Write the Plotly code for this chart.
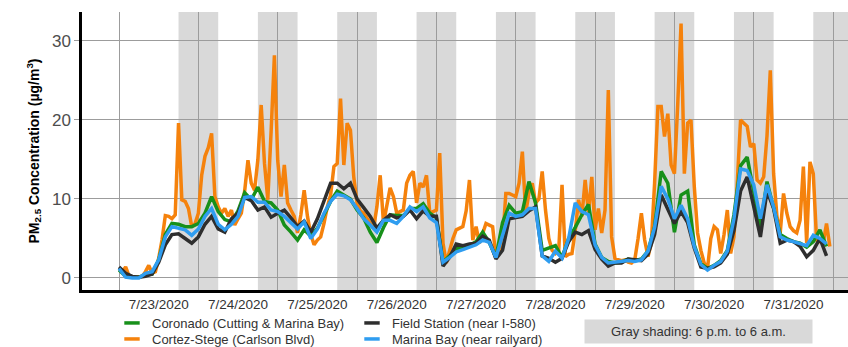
import pandas as pd
import plotly.graph_objects as go

# ---------------- data ----------------
START = "2020-07-23 00:00"

# Cortez-Stege (Carlson Blvd) - hourly readings
cortez_stege = [
    1.2, 0.8, 1.4, 0.3, 0.1, 0.1, 0.1, 0.2, 0.8, 1.6, 0.6, 0.8,
    2.5, 4.8, 7.9, 7.8, 7.5, 8.0, 19.6, 9.9, 9.7, 8.8, 6.5, 6.9,
    8.2, 13.0, 15.4, 16.5, 18.3, 10.3, 9.0, 8.2, 8.8, 7.8, 8.6, 6.7,
    7.5, 8.2, 11.0, 14.9, 12.0, 11.1, 15.0, 21.9, 14.5, 9.9, 18.5, 28.2,
    14.9, 10.3, 14.3, 9.5, 8.6, 7.8, 5.7, 8.0, 11.1, 7.8, 5.5, 4.2,
    4.8, 5.2, 6.9, 9.0, 10.5, 14.1, 14.5, 22.7, 14.3, 19.6, 18.7, 12.8,
    9.5, 8.5, 8.2, 7.5, 6.9, 6.3, 9.0, 13.0, 6.9, 9.0, 11.4, 10.3,
    8.2, 8.4, 8.6, 12.0, 13.0, 13.5, 9.5, 12.0, 11.5, 13.0, 8.2, 8.4,
    8.6, 15.8, 4.4, 1.9, 3.5, 5.0, 6.1, 6.3, 6.5, 8.5, 12.4, 4.8,
    6.5, 4.4, 5.5, 6.9, 6.7, 6.5, 2.7, 3.5, 4.4, 10.7, 10.7, 10.5,
    10.3, 12.0, 16.0, 8.2, 10.8, 12.0, 9.5, 10.0, 13.5, 8.6, 5.0, 3.5,
    3.1, 3.5, 11.8, 2.7, 3.0, 3.1, 6.0, 9.9, 7.8, 12.4, 8.2, 12.8,
    6.1, 8.8, 5.7, 8.6, 23.8, 5.2, 2.5, 2.3, 2.2, 2.3, 2.0, 1.9,
    2.3, 5.0, 8.2, 4.8, 2.7, 4.4, 12.0, 21.7, 21.7, 17.9, 20.8, 14.3,
    13.2, 22.0, 32.2, 13.2, 19.6, 20.0, 11.6, 5.7, 3.5, 1.9, 1.2, 5.0,
    6.5, 6.1, 3.1, 5.5, 8.6, 3.1, 5.2, 12.0, 20.0, 19.6, 19.2, 16.6,
    17.0, 12.4, 12.0, 12.8, 18.0, 26.3, 13.2, 7.8, 5.7, 10.7, 8.2, 6.5,
    6.0, 5.7, 7.3, 14.1, 4.4, 14.7, 13.2, 4.8, 4.6, 4.4, 6.9, 4.0,
]

# Coronado (Cutting & Marina Bay) - 2-hourly readings
coronado = [
    1.0, 0.2, 0.1, 0.1, 0.4, 0.5, 2.3, 5.5, 6.9, 6.8, 6.5, 6.5,
    6.9, 8.2, 10.3, 8.4, 7.4, 7.1, 8.5, 10.8, 9.9, 11.5, 9.7, 9.5,
    8.6, 6.7, 5.8, 4.8, 6.1, 5.3, 6.3, 8.0, 9.7, 11.0, 10.5, 10.0,
    8.6, 7.6, 5.8, 4.5, 6.4, 8.0, 7.9, 7.9, 8.8, 8.8, 9.4, 8.2,
    7.6, 2.0, 2.8, 3.7, 3.9, 4.1, 4.6, 5.8, 4.5, 2.6, 7.0, 9.2,
    8.2, 8.4, 12.2, 9.5, 3.5, 3.8, 4.1, 2.6, 5.0, 6.4, 8.0, 9.3,
    4.3, 2.6, 2.1, 1.9, 2.0, 2.4, 2.2, 2.4, 3.4, 6.5, 13.5, 12.0,
    5.8, 10.5, 11.0, 4.2, 1.8, 1.2, 1.6, 2.2, 3.5, 8.0, 14.2, 15.3,
    10.6, 6.5, 12.2, 9.0, 5.5, 5.0, 4.6, 4.4, 3.9, 4.6, 6.1, 4.0,
]

# Field Station (near I-580) - 2-hourly readings
field_station = [
    1.4, 0.6, 0.2, 0.1, 0.2, 0.5, 2.0, 4.2, 5.5, 5.6, 5.0, 4.4,
    5.2, 6.8, 7.8, 6.2, 5.8, 7.5, 8.2, 10.2, 9.8, 8.6, 9.0, 7.7,
    8.2, 8.6, 7.6, 6.5, 7.2, 5.8, 7.5, 9.9, 12.0, 12.0, 11.3, 12.0,
    10.0, 8.9, 7.8, 6.3, 7.3, 8.0, 7.6, 7.8, 8.6, 7.5, 8.5, 7.8,
    7.8, 1.5, 2.6, 4.3, 4.1, 4.3, 4.4, 5.3, 4.8, 2.4, 3.5, 7.5,
    7.6, 7.8, 8.5, 9.0, 2.8, 2.5, 2.0, 2.5, 4.6, 5.8, 5.5, 6.0,
    3.6, 2.4, 1.5, 1.9, 1.9, 2.4, 2.3, 2.2, 3.0, 5.5, 10.5, 8.8,
    6.9, 8.4, 7.0, 3.8, 1.4, 1.2, 1.4, 1.9, 3.0, 6.0, 11.0, 12.8,
    9.2, 5.2, 11.0, 8.8, 4.4, 4.8, 4.6, 4.0, 2.7, 3.5, 5.0, 2.8,
]

# Marina Bay (near railyard) - 2-hourly readings
marina_bay = [
    1.2, 0.1, 0.0, 0.0, 0.6, 0.8, 2.3, 5.2, 6.5, 6.3, 6.1, 5.4,
    6.2, 7.8, 8.8, 6.8, 6.1, 6.8, 7.8, 10.2, 10.3, 9.6, 9.6, 8.6,
    8.4, 7.8, 7.0, 6.2, 7.1, 5.0, 6.2, 8.2, 9.7, 10.6, 10.4, 9.9,
    8.8, 7.5, 6.7, 5.8, 7.3, 7.3, 6.9, 7.8, 9.0, 8.4, 9.0, 7.6,
    7.0, 2.0, 2.6, 3.3, 3.6, 3.9, 4.2, 4.8, 4.5, 2.6, 5.5, 8.2,
    7.8, 8.0, 8.8, 8.8, 2.8, 2.1, 3.4, 2.5, 5.0, 9.5, 8.4, 8.0,
    4.2, 2.6, 1.9, 2.0, 2.1, 2.2, 2.1, 2.3, 3.4, 6.4, 11.6, 10.0,
    7.5, 9.2, 7.5, 4.0, 1.7, 1.0, 1.6, 2.1, 3.4, 7.5, 13.8, 13.6,
    11.8, 7.5, 11.8, 9.0, 5.2, 4.8, 4.6, 4.4, 4.1, 5.4, 5.0, 4.3,
]

day_labels = ["7/23/2020", "7/24/2020", "7/25/2020", "7/26/2020", "7/27/2020",
              "7/28/2020", "7/29/2020", "7/30/2020", "7/31/2020"]
y_ticks = [0, 10, 20, 30]

names = {
    "coronado": "Coronado (Cutting & Marina Bay)",
    "cortez": "Cortez-Stege (Carlson Blvd)",
    "field": "Field Station (near I-580)",
    "marina": "Marina Bay (near railyard)",
}

# ---------------- styles ----------------
C_GREEN = "#17901a"
C_ORANGE = "#f5820c"
C_BLACK = "#2e2e2e"
C_BLUE = "#2f9df0"
GRID = "#9c9c9c"
SHADE = "#d9d9d9"
FONT = "Liberation Sans, Arial, sans-serif"
LW = 3.5

t_hourly = pd.date_range(START, periods=len(cortez_stege), freq="h")
t_2h = pd.date_range(START, periods=len(coronado), freq="2h")
days = pd.date_range(START, periods=len(day_labels), freq="D")
noons = days + pd.Timedelta(hours=12)
midnights = pd.date_range(START, periods=len(day_labels) + 1, freq="D")

fig = go.Figure()

# data traces (orange bottom, blue top)
fig.add_trace(go.Scatter(x=t_hourly, y=cortez_stege, mode="lines",
                         line=dict(color=C_ORANGE, width=LW), showlegend=False))
fig.add_trace(go.Scatter(x=t_2h, y=coronado, mode="lines",
                         line=dict(color=C_GREEN, width=LW), showlegend=False))
fig.add_trace(go.Scatter(x=t_2h, y=field_station, mode="lines",
                         line=dict(color=C_BLACK, width=LW), showlegend=False))
fig.add_trace(go.Scatter(x=t_2h, y=marina_bay, mode="lines",
                         line=dict(color=C_BLUE, width=LW), showlegend=False))

# legend entries (short dash symbols), one legend box per entry
def legend_entry(name, color, legend):
    fig.add_trace(go.Scatter(
        x=[None], y=[None], mode="markers", name=name, legend=legend,
        marker=dict(symbol="line-ew", size=11, color=color,
                    line=dict(width=3.5, color=color))))

legend_entry(names["coronado"], C_GREEN, "legend")
legend_entry(names["cortez"], C_ORANGE, "legend2")
legend_entry(names["field"], C_BLACK, "legend3")
legend_entry(names["marina"], C_BLUE, "legend4")

# night shading 6 p.m. to 6 a.m.
shapes = []
for d in days:
    shapes.append(dict(type="rect", xref="x", yref="paper",
                       x0=d + pd.Timedelta(hours=18), x1=d + pd.Timedelta(hours=30),
                       y0=0, y1=1, fillcolor=SHADE, line=dict(width=0),
                       layer="below"))

x_left = pd.Timestamp(START) - pd.Timedelta(hours=11.2)
x_right = pd.Timestamp(START) + pd.Timedelta(hours=220.5)

leg_common = dict(orientation="v", xanchor="left", yanchor="top",
                  bgcolor="rgba(0,0,0,0)", borderwidth=0, tracegroupgap=0,
                  itemwidth=30, font=dict(family=FONT, size=13, color="#333333"))


def px_x(px):
    return (px - 82) / 766


def px_y(py):
    return (290 - py) / 278


fig.update_layout(
    width=848, height=347, autosize=False,
    margin=dict(l=82, r=0, t=12, b=57, autoexpand=False),
    paper_bgcolor="white", plot_bgcolor="white",
    font=dict(family=FONT),
    shapes=shapes,
    xaxis=dict(
        range=[x_left, x_right],
        tickmode="array", tickvals=list(noons), ticktext=day_labels,
        showgrid=False, zeroline=False,
        minor=dict(tickmode="array", tickvals=list(midnights), showgrid=True,
                   gridcolor=GRID, gridwidth=1, ticks=""),
        showline=True, linecolor="black", linewidth=2.5,
        ticks="", ticklen=0,
        tickfont=dict(family=FONT, size=13.5, color="#333333"),
    ),
    yaxis=dict(
        range=[-1.52, 33.67],
        tickmode="array", tickvals=y_ticks,
        showgrid=True, gridcolor=GRID, gridwidth=1, zeroline=False,
        showline=True, linecolor="black", linewidth=2.5,
        ticks="outside", ticklen=5, tickcolor=GRID,
        tickfont=dict(family=FONT, size=17, color="#4d4d4d"),
        title=dict(text="PM<sub>2.5</sub> Concentration (µg/m<sup>3</sup>)",
                   font=dict(family=FONT, size=14, color="black", weight="bold"),
                   standoff=10),
    ),
    legend=dict(x=px_x(112), y=px_y(308), **leg_common),
    legend2=dict(x=px_x(112), y=px_y(324), **leg_common),
    legend3=dict(x=px_x(352), y=px_y(308), **leg_common),
    legend4=dict(x=px_x(352), y=px_y(324), **leg_common),
    annotations=[dict(
        xref="paper", yref="paper", x=px_x(698), y=px_y(331),
        xanchor="center", yanchor="middle", showarrow=False,
        text="Gray shading: 6 p.m. to 6 a.m.", width=227, height=23,
        bgcolor=SHADE, borderpad=0,
        font=dict(family=FONT, size=13, color="#333333"))],
)

fig.write_html("out.html",
               config={"displayModeBar": False},
               post_script="document.body.style.margin='0';"
                           "document.body.style.padding='0';")
